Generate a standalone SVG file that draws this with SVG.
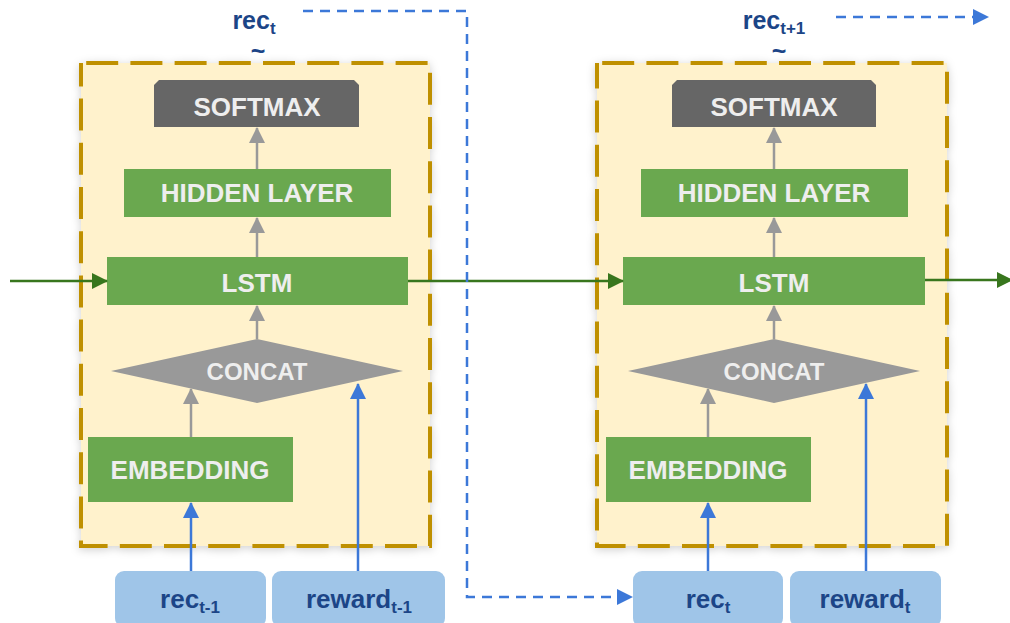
<svg xmlns="http://www.w3.org/2000/svg" width="1010" height="623" viewBox="0 0 1010 623">
  <style>
    .frame { fill: #fff2cc; stroke: #bf9000; stroke-width: 4; stroke-dasharray: 32 12.2; stroke-dashoffset: 39; }
    .green { fill: #6aa84f; }
    .dark { fill: #666666; }
    .concat { fill: #999999; }
    .input { fill: #9fc5e8; }
    .lbl { font-family: "Liberation Sans", Arial, sans-serif; font-weight: bold; font-size: 26px; fill: #eeeeee; text-anchor: middle; }
    .small { font-size: 24px; }
    .blue-lbl { font-family: "Liberation Sans", Arial, sans-serif; font-weight: bold; fill: #1c4587; text-anchor: middle; }
    .gray-line { stroke: #999999; stroke-width: 2.5; fill: none; }
    .blue-line { stroke: #3c78d8; stroke-width: 2.5; fill: none; }
    .dash-line { stroke: #3c78d8; stroke-width: 2.5; fill: none; stroke-dasharray: 10 7; }
    .green-line { stroke: #38761d; stroke-width: 2.5; fill: none; }
  </style>
  <defs>
    <filter id="shadow" x="-10%" y="-10%" width="120%" height="120%">
      <feDropShadow dx="0" dy="2" stdDeviation="4" flood-color="#000000" flood-opacity="0.18"/>
    </filter>
    <marker id="ah-gray" markerUnits="userSpaceOnUse" markerWidth="16" markerHeight="16" viewBox="0 0 16 16" refX="15" refY="8" orient="auto">
      <path d="M0,0 L16,8 L0,16 Z" fill="#999999"/>
    </marker>
    <marker id="ah-blue" markerUnits="userSpaceOnUse" markerWidth="16" markerHeight="16" viewBox="0 0 16 16" refX="15" refY="8" orient="auto">
      <path d="M0,0 L16,8 L0,16 Z" fill="#3c78d8"/>
    </marker>
    <marker id="ah-green" markerUnits="userSpaceOnUse" markerWidth="16" markerHeight="16" viewBox="0 0 16 16" refX="15" refY="8" orient="auto">
      <path d="M0,0 L16,8 L0,16 Z" fill="#38761d"/>
    </marker>
  </defs>

  <rect width="1010" height="623" fill="#ffffff"/>

  <!-- time step t-1 -->
  <g id="step-left">
    <rect class="frame" x="81" y="63" width="349" height="483" filter="url(#shadow)"/>
    <g id="softmax-left">
      <polygon class="dark" points="159,80 354,80 359,85 359,127 154,127 154,85"/>
      <text class="lbl" x="257" y="116">SOFTMAX</text>
    </g>
    <g id="hidden-left">
      <rect class="green" x="124" y="169" width="267" height="48"/>
      <text class="lbl" x="257" y="202">HIDDEN LAYER</text>
    </g>
    <g id="lstm-left">
      <rect class="green" x="107" y="257" width="301" height="48"/>
      <text class="lbl" x="257" y="292">LSTM</text>
    </g>
    <g id="concat-left">
      <polygon class="concat" points="111,371 257,339 403,371 257,403"/>
      <text class="lbl small" x="257" y="380">CONCAT</text>
    </g>
    <g id="embedding-left">
      <rect class="green" x="88" y="437" width="205" height="65"/>
      <text class="lbl" x="190" y="479">EMBEDDING</text>
    </g>
  </g>

  <!-- time step t -->
  <g id="step-right">
    <rect class="frame" x="597" y="63" width="350" height="483" filter="url(#shadow)"/>
    <g id="softmax-right">
      <polygon class="dark" points="677,80 871,80 876,85 876,127 672,127 672,85"/>
      <text class="lbl" x="774" y="116">SOFTMAX</text>
    </g>
    <g id="hidden-right">
      <rect class="green" x="641" y="169" width="267" height="48"/>
      <text class="lbl" x="774" y="202">HIDDEN LAYER</text>
    </g>
    <g id="lstm-right">
      <rect class="green" x="623" y="257" width="302" height="48"/>
      <text class="lbl" x="774" y="292">LSTM</text>
    </g>
    <g id="concat-right">
      <polygon class="concat" points="628,371 774,339 920,371 774,403"/>
      <text class="lbl small" x="774" y="380">CONCAT</text>
    </g>
    <g id="embedding-right">
      <rect class="green" x="606" y="437" width="205" height="65"/>
      <text class="lbl" x="708" y="479">EMBEDDING</text>
    </g>
  </g>

  <!-- inputs -->
  <g id="in-rec-prev">
    <rect class="input" x="115" y="571" width="151" height="56" rx="9"/>
    <text class="blue-lbl" x="190" y="608" font-size="26">rec<tspan font-size="17" dy="5">t-1</tspan></text>
  </g>
  <g id="in-reward-prev">
    <rect class="input" x="272" y="571" width="173" height="56" rx="9"/>
    <text class="blue-lbl" x="359" y="608" font-size="26">reward<tspan font-size="17" dy="5">t-1</tspan></text>
  </g>
  <g id="in-rec">
    <rect class="input" x="633" y="571" width="150" height="56" rx="9"/>
    <text class="blue-lbl" x="708" y="608" font-size="26">rec<tspan font-size="17" dy="5">t</tspan></text>
  </g>
  <g id="in-reward">
    <rect class="input" x="790" y="571" width="151" height="56" rx="9"/>
    <text class="blue-lbl" x="865" y="608" font-size="26">reward<tspan font-size="17" dy="5">t</tspan></text>
  </g>

  <!-- sampled outputs -->
  <g id="out-rec">
    <text class="blue-lbl" x="254" y="29" font-size="25">rec<tspan font-size="17" dy="5">t</tspan></text>
    <text class="blue-lbl" x="258" y="60" font-size="25">~</text>
  </g>
  <g id="out-rec-next">
    <text class="blue-lbl" x="774" y="29" font-size="25">rec<tspan font-size="17" dy="5">t+1</tspan></text>
    <text class="blue-lbl" x="779" y="60" font-size="25">~</text>
  </g>

  <g id="connectors">
    <!-- inside each step -->
    <line class="gray-line" x1="257" y1="169" x2="257" y2="128" marker-end="url(#ah-gray)"/>
    <line class="gray-line" x1="257" y1="257" x2="257" y2="218" marker-end="url(#ah-gray)"/>
    <line class="gray-line" x1="257" y1="339" x2="257" y2="306" marker-end="url(#ah-gray)"/>
    <line class="gray-line" x1="191" y1="437" x2="191" y2="389" marker-end="url(#ah-gray)"/>
    <line class="gray-line" x1="774" y1="169" x2="774" y2="128" marker-end="url(#ah-gray)"/>
    <line class="gray-line" x1="774" y1="257" x2="774" y2="218" marker-end="url(#ah-gray)"/>
    <line class="gray-line" x1="774" y1="339" x2="774" y2="306" marker-end="url(#ah-gray)"/>
    <line class="gray-line" x1="708" y1="437" x2="708" y2="389" marker-end="url(#ah-gray)"/>

    <!-- inputs into the steps -->
    <line class="blue-line" x1="191" y1="571" x2="191" y2="503" marker-end="url(#ah-blue)"/>
    <line class="blue-line" x1="358" y1="571" x2="358" y2="384" marker-end="url(#ah-blue)"/>
    <line class="blue-line" x1="708" y1="571" x2="708" y2="503" marker-end="url(#ah-blue)"/>
    <line class="blue-line" x1="866" y1="571" x2="866" y2="384" marker-end="url(#ah-blue)"/>

    <!-- recurrent state -->
    <line class="green-line" x1="10" y1="281" x2="107" y2="281" marker-end="url(#ah-green)"/>
    <line class="green-line" x1="408" y1="281" x2="623" y2="281" marker-end="url(#ah-green)"/>
    <line class="green-line" x1="925" y1="280" x2="1012" y2="280" marker-end="url(#ah-green)"/>

    <!-- sampled item fed back as next input -->
    <path class="dash-line" d="M303,11 H467 V597 H632" marker-end="url(#ah-blue)"/>
    <line class="dash-line" x1="836" y1="17" x2="988" y2="17" marker-end="url(#ah-blue)"/>
  </g>
</svg>
